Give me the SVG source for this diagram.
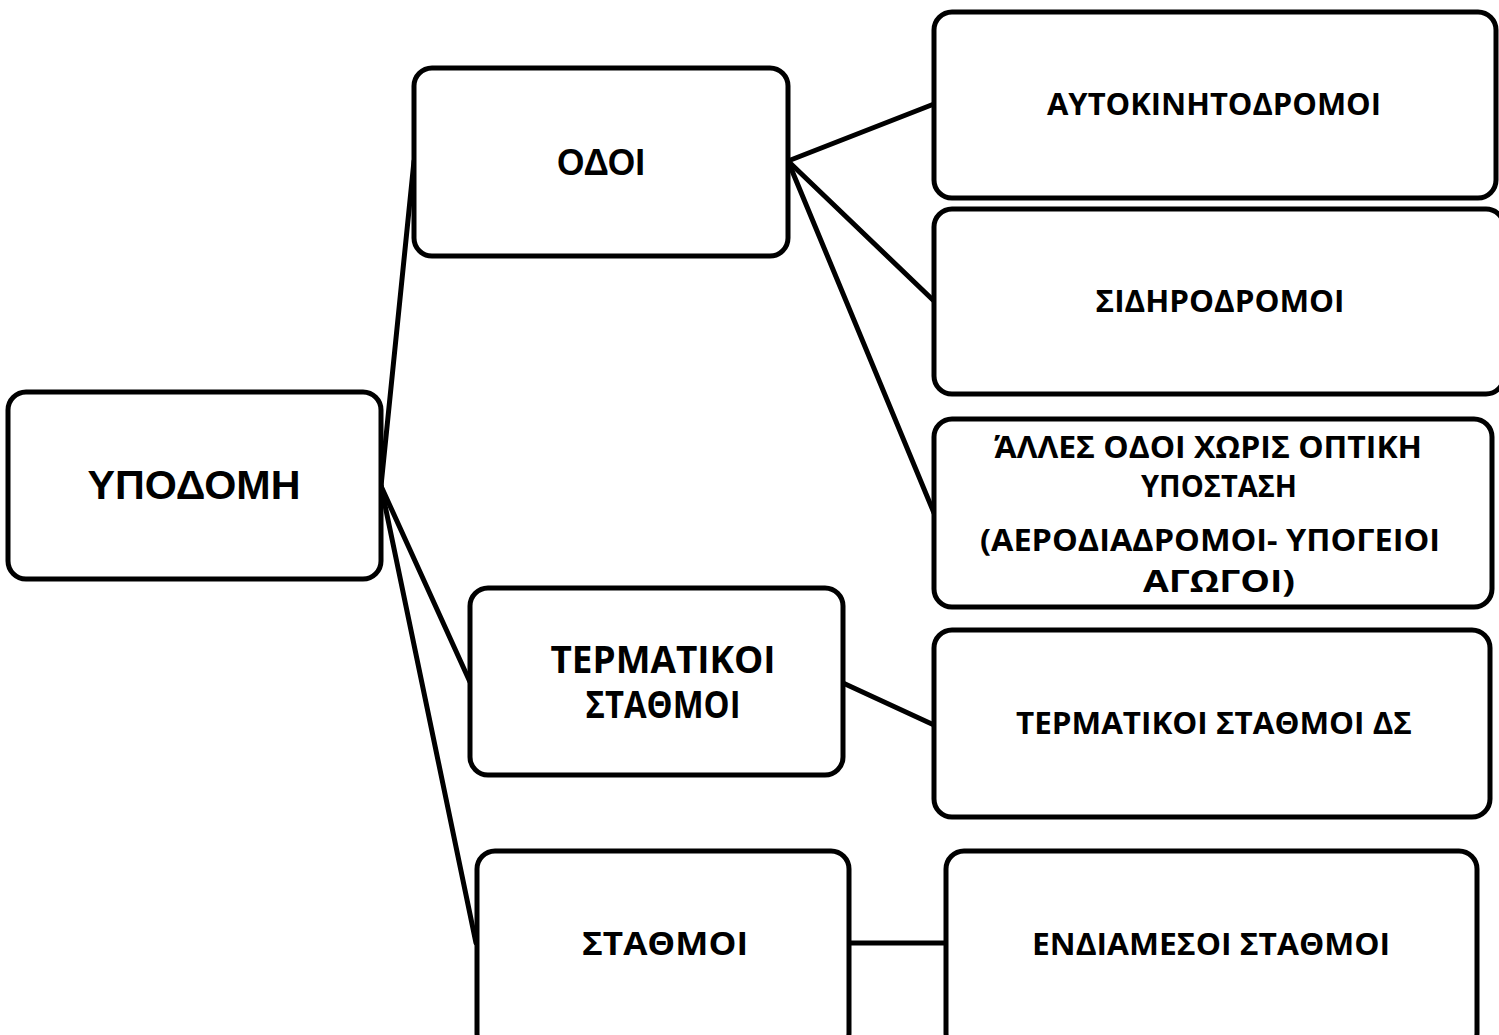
<svg xmlns="http://www.w3.org/2000/svg" width="1499" height="1035" viewBox="0 0 1499 1035">
  <style>
    .box { fill: #ffffff; stroke: #000000; stroke-width: 5; }
    .link { stroke: #000000; stroke-width: 5; fill: none; stroke-linecap: round; }
    .ar { font-family: "Liberation Sans", Arial, sans-serif; font-weight: bold; fill: #000; text-anchor: middle; }
    .cb { font-family: "Open Sans", "Noto Sans", sans-serif; font-weight: bold; fill: #000; text-anchor: middle; }
  </style>
  <rect width="1499" height="1035" fill="#ffffff"/>

  <!-- connectors -->
  <g id="connectors">
    <line class="link" x1="381" y1="486" x2="414" y2="161"/>
    <line class="link" x1="381" y1="486" x2="470" y2="682"/>
    <line class="link" x1="381" y1="486" x2="476" y2="943"/>
    <line class="link" x1="788" y1="161" x2="934" y2="104"/>
    <line class="link" x1="788" y1="161" x2="934" y2="301"/>
    <line class="link" x1="788" y1="161" x2="934" y2="513"/>
    <line class="link" x1="843" y1="683" x2="934" y2="725"/>
    <line class="link" x1="850" y1="943" x2="946" y2="943"/>
  </g>

  <!-- root -->
  <g id="node-ypodomi">
    <rect class="box" x="8" y="392" width="373" height="187" rx="18"/>
    <text class="ar" x="194" y="499" font-size="40" textLength="213" lengthAdjust="spacingAndGlyphs">ΥΠΟΔΟΜΗ</text>
  </g>

  <!-- second level -->
  <g id="node-odoi">
    <rect class="box" x="414" y="68" width="374" height="188" rx="18"/>
    <text class="ar" x="601" y="175" font-size="36" textLength="88" lengthAdjust="spacingAndGlyphs">ΟΔΟΙ</text>
  </g>
  <g id="node-termatikoi">
    <rect class="box" x="470" y="588" width="373" height="187" rx="18"/>
    <text class="cb" x="663" y="673" font-size="37" textLength="225" lengthAdjust="spacingAndGlyphs">ΤΕΡΜΑΤΙΚΟΙ</text>
    <text class="cb" x="663" y="718" font-size="37" textLength="155" lengthAdjust="spacingAndGlyphs">ΣΤΑΘΜΟΙ</text>
  </g>
  <g id="node-stathmoi">
    <rect class="box" x="477" y="851" width="372" height="200" rx="18"/>
    <text class="cb" x="665" y="955" font-size="32" textLength="166" lengthAdjust="spacingAndGlyphs">ΣΤΑΘΜΟΙ</text>
  </g>

  <!-- third level -->
  <g id="node-autokinitodromoi">
    <rect class="box" x="934" y="12" width="562" height="186" rx="18"/>
    <text class="cb" x="1214" y="115" font-size="30" textLength="334" lengthAdjust="spacingAndGlyphs">ΑΥΤΟΚΙΝΗΤΟΔΡΟΜΟΙ</text>
  </g>
  <g id="node-sidirodromoi">
    <rect class="box" x="934" y="209" width="570" height="185" rx="18"/>
    <text class="cb" x="1220" y="312" font-size="30" textLength="249" lengthAdjust="spacingAndGlyphs">ΣΙΔΗΡΟΔΡΟΜΟΙ</text>
  </g>
  <g id="node-alles-odoi">
    <rect class="box" x="934" y="419" width="558" height="188" rx="18"/>
    <text class="cb" x="1208" y="458" font-size="30" textLength="428" lengthAdjust="spacingAndGlyphs">ΆΛΛΕΣ ΟΔΟΙ ΧΩΡΙΣ ΟΠΤΙΚΗ</text>
    <text class="cb" x="1219" y="497" font-size="30" textLength="156" lengthAdjust="spacingAndGlyphs">ΥΠΟΣΤΑΣΗ</text>
    <text class="cb" x="1210" y="551" font-size="30" textLength="460" lengthAdjust="spacingAndGlyphs">(ΑΕΡΟΔΙΑΔΡΟΜΟΙ- ΥΠΟΓΕΙΟΙ</text>
    <text class="cb" x="1219" y="592" font-size="30" textLength="152" lengthAdjust="spacingAndGlyphs">ΑΓΩΓΟΙ)</text>
  </g>
  <g id="node-termatikoi-ds">
    <rect class="box" x="934" y="630" width="556" height="187" rx="18"/>
    <text class="cb" x="1214" y="734" font-size="30" textLength="396" lengthAdjust="spacingAndGlyphs">ΤΕΡΜΑΤΙΚΟΙ ΣΤΑΘΜΟΙ ΔΣ</text>
  </g>
  <g id="node-endiamesoi">
    <rect class="box" x="946" y="851" width="531" height="200" rx="18"/>
    <text class="cb" x="1211" y="955" font-size="30" textLength="358" lengthAdjust="spacingAndGlyphs">ΕΝΔΙΑΜΕΣΟΙ ΣΤΑΘΜΟΙ</text>
  </g>
</svg>
